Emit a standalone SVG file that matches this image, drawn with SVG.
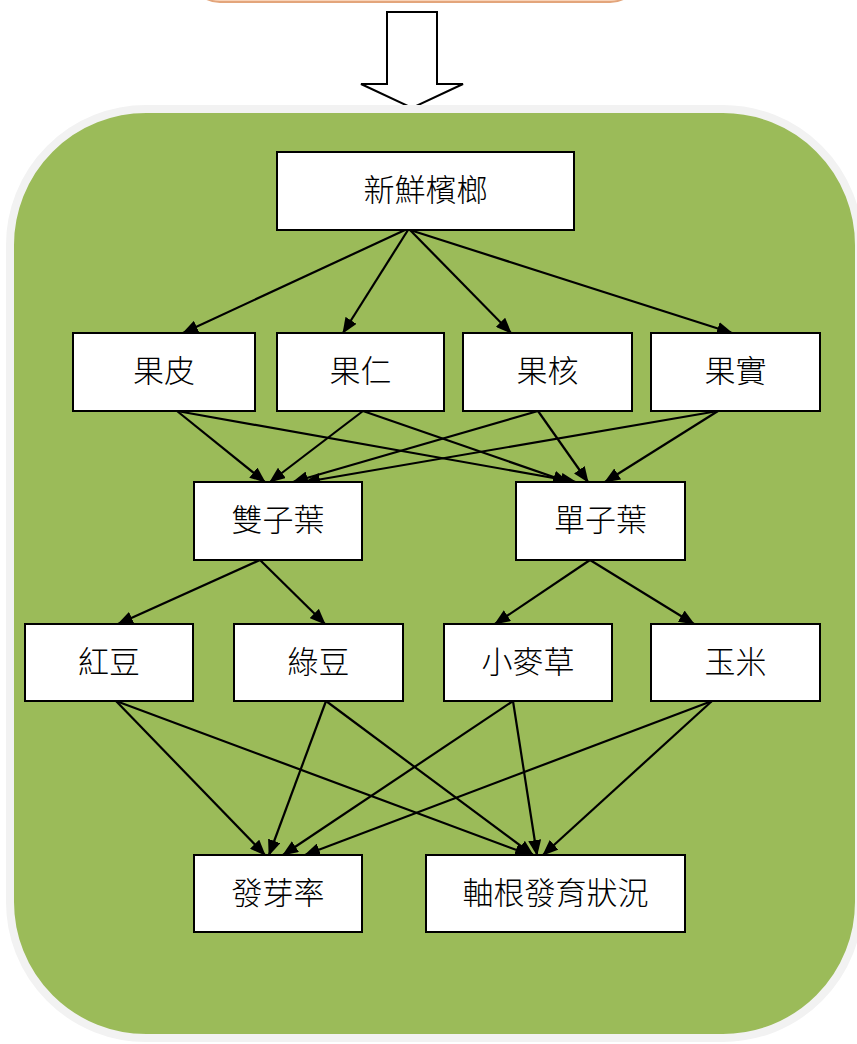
<svg xmlns="http://www.w3.org/2000/svg" width="857" height="1044" viewBox="0 0 857 1044">
<style>
.box{fill:#ffffff;stroke:#000000;stroke-width:2}
.lbl{font-family:"Noto Sans CJK TC","Noto Sans CJK SC",sans-serif;font-weight:300;font-size:31px;fill:#000000;text-anchor:middle;dominant-baseline:central}
.edge{stroke:#000000;stroke-width:2.2;fill:none;marker-end:url(#ah)}
</style>
<defs>
<marker id="ah" markerUnits="userSpaceOnUse" markerWidth="16" markerHeight="13" refX="15" refY="6.5" orient="auto" viewBox="0 0 16 13">
<path d="M0,0 L16,6.5 L0,13 z" fill="#000000"/>
</marker>
</defs>
<rect width="857" height="1044" fill="#ffffff"/>
<!-- top orange shape -->
<rect x="190" y="-60" width="450" height="62" rx="30" fill="#f9d3b8" stroke="#e3a57b" stroke-width="2"/>
<!-- block arrow -->
<polygon points="387,12 437,12 437,84 463,84 412,108 361,84 387,84" fill="#ffffff" stroke="#000000" stroke-width="2"/>
<!-- green panel -->
<rect x="10" y="112" width="849" height="929" rx="136" fill="#a3ab92"/>
<rect x="10" y="109" width="849" height="929" rx="136" fill="#9bbb59" stroke="#f2f2f2" stroke-width="8"/>

<g id="connectors">
<line class="edge" x1="405" y1="230" x2="183" y2="333"/>
<line class="edge" x1="408" y1="230" x2="343" y2="333"/>
<line class="edge" x1="410" y1="230" x2="511" y2="333"/>
<line class="edge" x1="410" y1="230" x2="732" y2="333"/>

<line class="edge" x1="177" y1="411" x2="265" y2="482"/>
<line class="edge" x1="177" y1="411" x2="576" y2="482"/>
<line class="edge" x1="363" y1="411" x2="270" y2="482"/>
<line class="edge" x1="363" y1="411" x2="568" y2="482"/>
<line class="edge" x1="538" y1="411" x2="293" y2="482"/>
<line class="edge" x1="538" y1="411" x2="588" y2="482"/>
<line class="edge" x1="718" y1="411" x2="305" y2="482"/>
<line class="edge" x1="718" y1="411" x2="605" y2="482"/>

<line class="edge" x1="260" y1="560" x2="118" y2="624"/>
<line class="edge" x1="260" y1="560" x2="325" y2="624"/>
<line class="edge" x1="590" y1="560" x2="495" y2="624"/>
<line class="edge" x1="590" y1="560" x2="694" y2="624"/>

<line class="edge" x1="116" y1="701" x2="265" y2="855"/>
<line class="edge" x1="116" y1="701" x2="530" y2="855"/>
<line class="edge" x1="326" y1="701" x2="269" y2="855"/>
<line class="edge" x1="326" y1="701" x2="533" y2="855"/>
<line class="edge" x1="513" y1="701" x2="283" y2="855"/>
<line class="edge" x1="513" y1="701" x2="537" y2="855"/>
<line class="edge" x1="712" y1="701" x2="305" y2="855"/>
<line class="edge" x1="712" y1="701" x2="543" y2="855"/>
</g>

<g id="n_betel"><rect class="box" x="277" y="152" width="297" height="78"/><text class="lbl" x="425.5" y="187">新鮮檳榔</text></g>
<g id="n_peel"><rect class="box" x="73" y="333" width="182" height="78"/><text class="lbl" x="164" y="368">果皮</text></g>
<g id="n_kernel"><rect class="box" x="277" y="333" width="167" height="78"/><text class="lbl" x="360.5" y="368">果仁</text></g>
<g id="n_core"><rect class="box" x="463" y="333" width="169" height="78"/><text class="lbl" x="547.5" y="368">果核</text></g>
<g id="n_fruit"><rect class="box" x="651" y="333" width="169" height="78"/><text class="lbl" x="735.5" y="368">果實</text></g>
<g id="n_dicot"><rect class="box" x="194" y="482" width="168" height="78"/><text class="lbl" x="278" y="517">雙子葉</text></g>
<g id="n_monocot"><rect class="box" x="516" y="482" width="169" height="78"/><text class="lbl" x="600.5" y="517">單子葉</text></g>
<g id="n_redbean"><rect class="box" x="25" y="624" width="168" height="77"/><text class="lbl" x="109" y="659">紅豆</text></g>
<g id="n_mungbean"><rect class="box" x="234" y="624" width="169" height="77"/><text class="lbl" x="318.5" y="659">綠豆</text></g>
<g id="n_wheatgrass"><rect class="box" x="444" y="624" width="168" height="77"/><text class="lbl" x="528" y="659">小麥草</text></g>
<g id="n_corn"><rect class="box" x="651" y="624" width="169" height="77"/><text class="lbl" x="735.5" y="659">玉米</text></g>
<g id="n_germ"><rect class="box" x="194" y="855" width="168" height="77"/><text class="lbl" x="278" y="890">發芽率</text></g>
<g id="n_root"><rect class="box" x="426" y="855" width="259" height="77"/><text class="lbl" x="555.5" y="890">軸根發育狀況</text></g>
</svg>
